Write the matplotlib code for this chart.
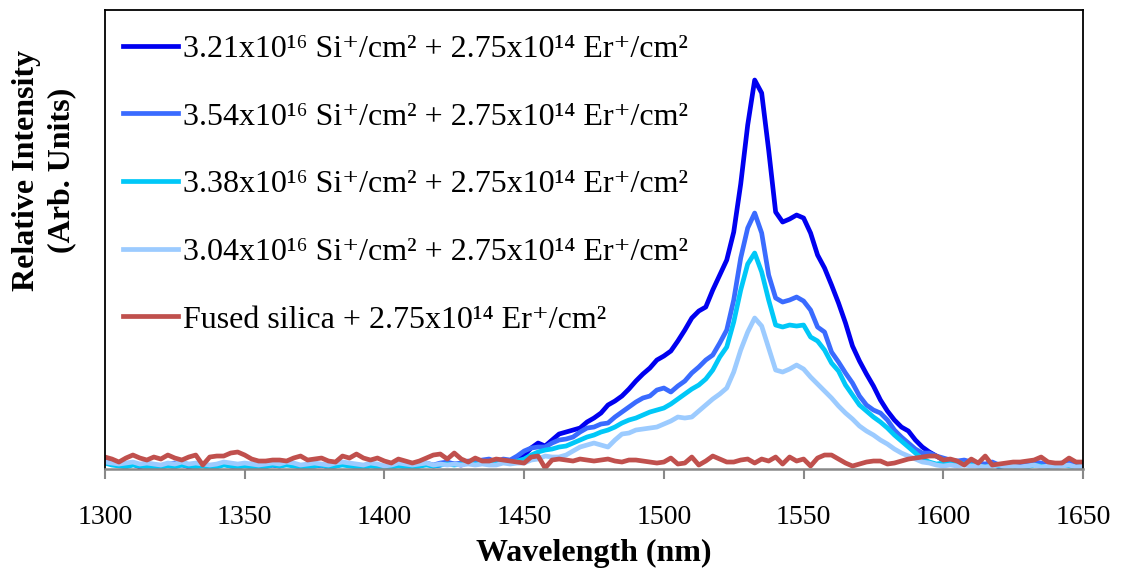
"""Er photoluminescence spectra for Si + Er implanted fused silica."""
import numpy as np
import matplotlib
matplotlib.use('Agg')
import matplotlib.pyplot as plt

plt.rcParams['font.family'] = ['Liberation Serif', 'DejaVu Serif']

# wavelength grid (nm), 2.5 nm steps
wavelength = np.arange(1300, 1650.1, 2.5)

# intensities (arb. units)
si_321 = [8, 6, 5, 4, 6, 3, 5, 4, 3, 5, 4, 6, 3, 4, 5, 3, 4, 6, 4, 3,
          5, 4, 3, 4, 5, 4, 6, 5, 3, 4, 4, 5, 3, 4, 6, 5, 4, 3, 5, 4,
          2, 3, 5, 4, 3, 4, 6, 4, 5, 7, 6, 5, 8, 6, 9, 10,
          8, 10, 9, 13, 15, 22, 27, 24, 30, 36,
          38, 40, 42, 48, 52, 57, 65, 69, 74, 81,
          89, 96, 102, 110, 114, 119, 129, 140, 152, 159,
          163, 180, 195, 210, 238, 286, 345, 390, 377, 320,
          258, 248, 251, 255, 252, 237, 215, 202, 185, 167,
          147, 124, 109, 96, 84, 70, 59, 50, 43, 39,
          30, 23, 18, 14, 10, 9, 7, 8, 6,
          5, 4, 6, 3, 4, 5, 3, 4, 6, 5, 3, 4, 5, 6, 4, 5]

si_354 = [9, 7, 6, 5, 7, 5, 6, 5, 4, 6, 7, 5, 4, 6, 5, 4, 5, 7, 6, 4,
          5, 6, 4, 5, 6, 5, 7, 6, 4, 5, 6, 5, 4, 6, 7, 6, 5, 4, 6, 5,
          3, 4, 6, 5, 4, 6, 7, 5, 7, 8, 6, 7, 9, 8, 10, 11,
          8, 11, 10, 14, 19, 22, 23, 23, 27, 30,
          31, 33, 38, 42, 43, 46, 47, 53, 58, 63,
          68, 72, 74, 80, 82, 78, 84, 89, 97, 103,
          110, 115, 127, 140, 170, 212, 242, 257, 237, 195,
          172, 168, 170, 173, 169, 160, 143, 138, 118, 108,
          97, 87, 74, 65, 60, 57, 50, 40, 33, 27,
          21, 17, 17, 14, 12, 10, 9, 10, 8,
          7, 6, 8, 5, 6, 7, 5, 6, 8, 7, 5, 6, 7, 8, 6, 7]

si_338 = [7, 5, 4, 3, 5, 4, 3, 2, 3, 4, 3, 5, 4, 3, 4, 2, 3, 5, 4, 3,
          4, 3, 2, 3, 5, 4, 5, 4, 3, 3, 4, 5, 3, 4, 5, 4, 3, 2, 4, 3,
          2, 3, 4, 3, 2, 4, 5, 4, 5, 6, 5, 6, 7, 6, 7, 8,
          6, 8, 7, 9, 11, 15, 18, 20, 21, 23,
          24, 27, 30, 33, 35, 38, 40, 43, 47, 50,
          52, 55, 58, 60, 62, 66, 71, 76, 81, 85,
          91, 100, 113, 123, 148, 180, 206, 217, 198, 170,
          145, 143, 145, 144, 145, 133, 129, 120, 107, 99,
          85, 75, 65, 59, 53, 48, 42, 35, 29, 23,
          17, 11, 8, 6, 7, 6, 8, 6, 5,
          4, 3, 5, 4, 3, 4, 2, 3, 5, 4, 3, 4, 5, 4, 3, 4]

si_304 = [8, 7, 6, 7, 8, 6, 7, 6, 5, 7, 6, 8, 6, 7, 6, 5, 6, 8, 7, 6,
          7, 6, 5, 6, 7, 6, 8, 7, 5, 6, 7, 6, 5, 7, 8, 7, 6, 5, 7, 6,
          4, 5, 7, 6, 5, 6, 7, 5, 6, 5, 6, 5, 6, 5, 6, 5,
          5, 7, 6, 7, 7, 10, 11, 14, 13, 13,
          15, 19, 23, 25, 27, 25, 23, 30, 36, 37,
          40, 41, 42, 43, 46, 49, 53, 52, 53, 59,
          65, 71, 76, 82, 98, 120, 138, 152, 144, 122,
          100, 98, 101, 105, 101, 93, 86, 79, 72, 64,
          57, 51, 44, 39, 35, 30, 26, 21, 17, 14,
          11, 8, 7, 5, 4, 5, 4, 5, 4,
          4, 3, 4, 5, 3, 4, 3, 4, 5, 3, 4, 3, 4, 5, 3, 4]

fused_silica = [13, 11, 8, 12, 15, 12, 10, 13, 11, 15,
                12, 10, 13, 15, 5, 13, 14, 14, 17, 18,
                15, 11, 9, 9, 10, 10, 9, 12, 14, 10,
                11, 12, 9, 8, 14, 12, 16, 12, 10, 12,
                9, 7, 11, 9, 7, 9, 12, 15, 16, 11,
                17, 11, 8, 12, 9, 9, 11, 10, 9, 8,
                7, 13, 14, 2, 10, 11, 10, 9, 11, 10,
                9, 10, 11, 9, 8, 10, 10, 9, 8, 7,
                8, 12, 6, 7, 13, 5, 9, 14, 11, 8,
                8, 10, 11, 7, 11, 9, 13, 6, 13, 9,
                11, 4, 12, 15, 15, 11, 7, 4, 6, 8,
                9, 9, 6, 7, 9, 11, 12, 13, 14, 14,
                10, 11, 9, 5, 11, 7, 14, 5, 6, 7,
                8, 8, 9, 10, 13, 8, 7, 7, 12, 8, 8]

labels = ['3.21x10¹⁶ Si⁺/cm² + 2.75x10¹⁴ Er⁺/cm²',
          '3.54x10¹⁶ Si⁺/cm² + 2.75x10¹⁴ Er⁺/cm²',
          '3.38x10¹⁶ Si⁺/cm² + 2.75x10¹⁴ Er⁺/cm²',
          '3.04x10¹⁶ Si⁺/cm² + 2.75x10¹⁴ Er⁺/cm²',
          'Fused silica + 2.75x10¹⁴ Er⁺/cm²']
colors = ['#0000F0', '#3A6BFF', '#00C8F8', '#9CCBFF', '#C0504D']
series = [si_321, si_354, si_338, si_304, fused_silica]

fig = plt.figure(figsize=(11.25, 5.69), dpi=100)
ax = fig.add_axes([0.0933, 0.1757, 0.8694, 0.8067])

for vals, col, lab in zip(series, colors, labels):
    ax.plot(wavelength, vals, color=col, lw=3.4, label=lab, solid_joinstyle='round')

ax.set_xlim(1300, 1650)
ax.set_ylim(1, 460)
ax.set_xticks(np.arange(1300, 1651, 50))
ax.set_yticks([])
ax.tick_params(axis='x', direction='out', length=7, width=1.5, color='#898989',
               labelsize=20, pad=19)
for side in ['left', 'top', 'right']:
    ax.spines[side].set_color('black')
    ax.spines[side].set_linewidth(1.3)
ax.spines['bottom'].set_color('#898989')
ax.spines['bottom'].set_linewidth(1.8)

ax.set_xlabel('Wavelength (nm)', fontsize=23, fontweight='bold', labelpad=6)
fig.text(0.039, 0.70, 'Relative Intensity\n(Arb. Units)', fontsize=23,
         fontweight='bold', rotation=90, ha='center', va='center',
         linespacing=1.3, multialignment='center')

ax.legend(loc='upper left', bbox_to_anchor=(0.0, 0.985), frameon=False, fontsize=23,
          handlelength=1.75, handletextpad=0.15, labelspacing=1.2,
          borderaxespad=0.15)

fig.savefig('out.png', dpi=100)
